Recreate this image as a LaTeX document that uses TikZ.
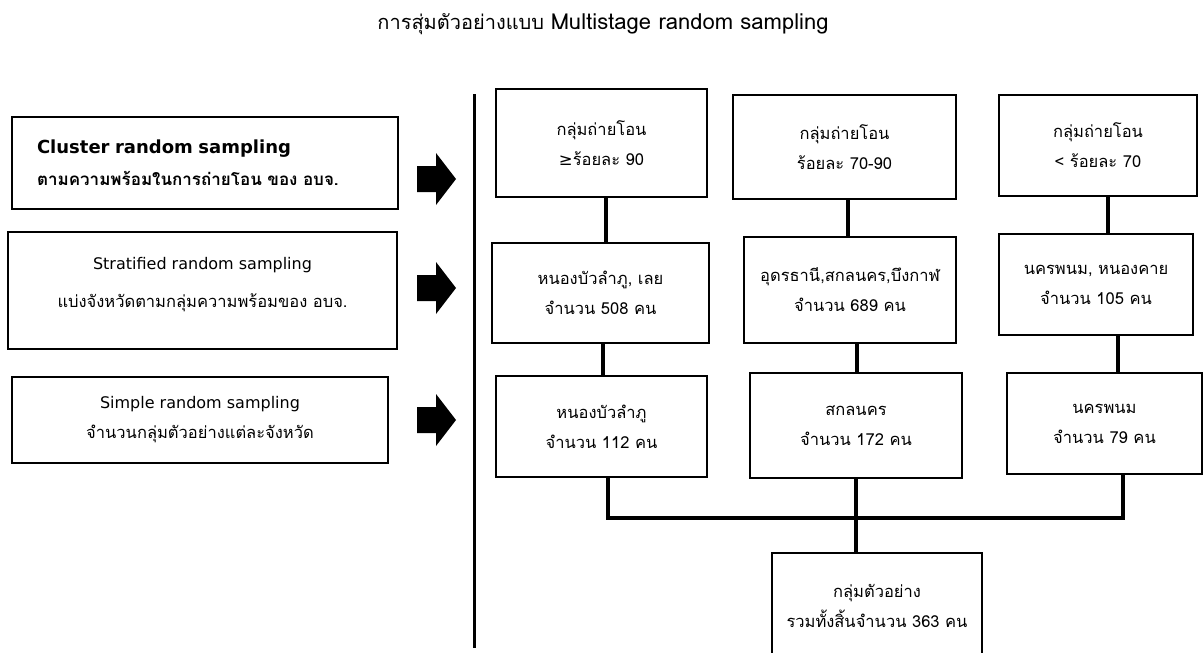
\documentclass[tikz,border=0pt]{standalone}
\usepackage{fontspec}
\setmainfont[Script=Thai]{Loma}
\newfontfamily\latinfont{DejaVu Sans}
\newfontfamily\symfont{DejaVu Sans}

\tikzset{
  box/.style={draw, line width=2pt, align=center, inner sep=0pt, font=\fontsize{16.5}{30}\selectfont},
  link/.style={line width=4pt},
}

\begin{document}
\begin{tikzpicture}[x=1pt, y=-1pt]
        \useasboundingbox (0,0) rectangle (1203,653);

        \node[font=\fontsize{20}{22}\selectfont] (title) at (603,24) {การสุ่มตัวอย่างแบบ {\fontsize{22}{22}\selectfont Multistage random sampling}};

        % left column
        \node[box, align=left, text width=336pt, inner xsep=25pt, minimum height=92pt] (cluster) at (205,163)
            {{\latinfont\bfseries\fontsize{18}{20}\selectfont Cluster random sampling}\\[2pt]{\bfseries\fontsize{17}{20}\selectfont ตามความพร้อมในการถ่ายโอน ของ อบจ.}};
        \node[box, minimum width=389pt, minimum height=117pt] (strat) at (202.5,290.5)
            {{\latinfont\fontsize{16}{30}\selectfont Stratified random sampling}\\[8pt]แบ่งจังหวัดตามกลุ่มความพร้อมของ อบจ.\rule[-16pt]{0pt}{1pt}};
        \node[box, minimum width=376pt, minimum height=86pt] (simple) at (200,420)
            {{\latinfont\fontsize{16}{30}\selectfont Simple random sampling}\\จำนวนกลุ่มตัวอย่างแต่ละจังหวัด};

        \foreach \y in {179,288,420}
            \fill (417,\y-13) -- (436,\y-13) -- (436,\y-26) -- (456,\y) -- (436,\y+26) -- (436,\y+13) -- (417,\y+13) -- cycle;

        \coordinate (top) at (474,94);
        \coordinate (bottom) at (474,648);
        \draw[line width=3pt] (top) -- (bottom);

        % groups
        \node[box, minimum width=211pt, minimum height=108pt] (a1) at (601.5,143) {กลุ่มถ่ายโอน\\{\symfont ≥}ร้อยละ 90};
        \node[box, minimum width=223pt, minimum height=104pt] (b1) at (844.5,147) {กลุ่มถ่ายโอน\\ร้อยละ 70-90};
        \node[box, minimum width=198pt, minimum height=101pt] (c1) at (1098,145.5) {กลุ่มถ่ายโอน\\< ร้อยละ 70};

        % provinces
        \node[box, minimum width=217pt, minimum height=100pt] (a2) at (600.5,293) {หนองบัวลำภู, เลย\\จำนวน 508 คน};
        \node[box, minimum width=212pt, minimum height=106pt] (b2) at (850,290) {อุดรธานี,สกลนคร,บึงกาฬ\\จำนวน 689 คน};
        \node[box, minimum width=194pt, minimum height=101pt] (c2) at (1096,284.5) {นครพนม, หนองคาย\\จำนวน 105 คน};

        % samples
        \node[box, minimum width=211pt, minimum height=101pt] (a3) at (601.5,426.5) {หนองบัวลำภู\\จำนวน 112 คน};
        \node[box, minimum width=212pt, minimum height=105pt] (b3) at (856,425.5) {สกลนคร\\จำนวน 172 คน};
        \node[box, minimum width=195pt, minimum height=101pt] (c3) at (1104.5,423.5) {นครพนม\\จำนวน 79 คน};

        \node[box, minimum width=210pt, minimum height=106pt] (total) at (877,606) {กลุ่มตัวอย่าง\\รวมทั้งสิ้นจำนวน 363 คน};

        \draw[link] ([xshift=4pt]a1.south) -- ([xshift=4pt]a1.south |- a2.north);
        \draw[link] ([xshift=3pt]b1.south) -- ([xshift=3pt]b1.south |- b2.north);
        \draw[link] ([xshift=10pt]c1.south) -- ([xshift=10pt]c1.south |- c2.north);
        \draw[link] ([xshift=2.5pt]a2.south) -- ([xshift=2.5pt]a2.south |- a3.north);
        \draw[link] ([xshift=7pt]b2.south) -- ([xshift=7pt]b2.south |- b3.north);
        \draw[link] ([xshift=22pt]c2.south) -- ([xshift=22pt]c2.south |- c3.north);

        \coordinate (bar) at (0,518);
        \draw[link] ([xshift=6.5pt]a3.south) -- ([xshift=6.5pt]a3.south |- bar) -- ([xshift=18.5pt]c3.south |- bar) -- ([xshift=18.5pt]c3.south);
        \draw[link] (b3.south) -- (b3.south |- total.north);
\end{tikzpicture}
\end{document}
